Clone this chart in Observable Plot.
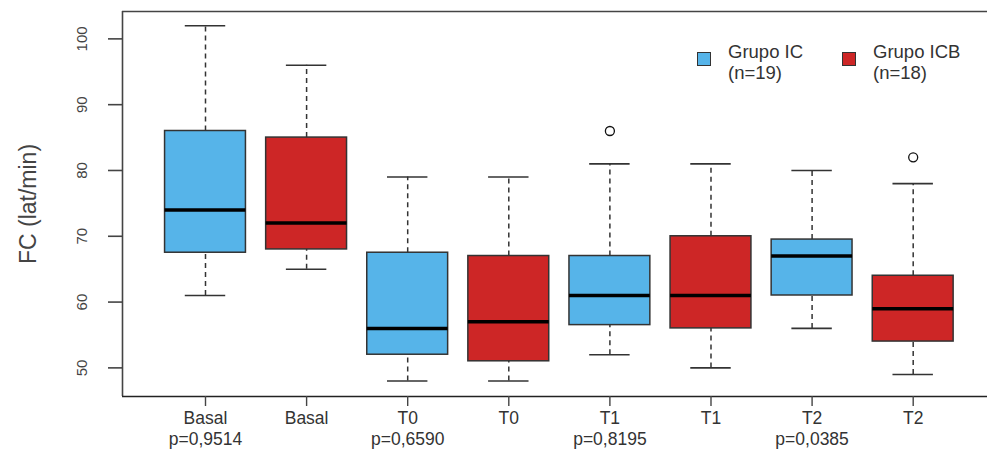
<!DOCTYPE html>
<html>
<head>
<meta charset="utf-8">
<script src="https://cdn.jsdelivr.net/npm/d3@7"></script>
<script src="https://cdn.jsdelivr.net/npm/@observablehq/plot@0.6"></script>
<style>
  html, body { margin: 0; padding: 0; background: #fff; }
  #wrap { position: relative; width: 987px; height: 453px; overflow: hidden; }
  #legend { position: absolute; left: 0; top: 0; font-family: "Liberation Sans", Arial, sans-serif; font-size: 18.5px; color: #333; line-height: 21px; }
  .item { position: absolute; top: 41px; display: flex; align-items: flex-start; white-space: nowrap; }
  .sw { width: 14px; height: 14px; border: 1.3px solid #333; margin-top: 11px; margin-right: 17px; box-sizing: border-box; }
</style>
</head>
<body>
<div id="wrap"><div id="legend"></div></div>
<script>
// ---- data ----
const times = ["Basal", "T0", "T1", "T2"];
const pValues = ["p=0,9514", "p=0,6590", "p=0,8195", "p=0,0385"];
const groups = ["Grupo IC", "Grupo ICB"];
const groupN = ["(n=19)", "(n=18)"];
const colors = ["#56b4e9", "#cd2626"];

// Grupo IC
const icLow  = [61, 48, 52, 56];
const icQ1   = [67.5, 52, 56.5, 61];
const icMed  = [74, 56, 61, 67];
const icQ3   = [86, 67.5, 67, 69.5];
const icHigh = [102, 79, 81, 80];
const icOutliers = [{time: "T1", value: 86}];

// Grupo ICB
const icbLow  = [65, 48, 50, 49];
const icbQ1   = [68, 51, 56, 54];
const icbMed  = [72, 57, 61, 59];
const icbQ3   = [85, 67, 70, 64];
const icbHigh = [96, 79, 81, 78];
const icbOutliers = [{time: "T2", value: 82}];

const yTicks = [50, 60, 70, 80, 90, 100];
const yTitle = "FC (lat/min)";

// ---- build table ----
const series = [
  {low: icLow, q1: icQ1, med: icMed, q3: icQ3, high: icHigh, out: icOutliers},
  {low: icbLow, q1: icbQ1, med: icbMed, q3: icbQ3, high: icbHigh, out: icbOutliers}
];
const rows = [];
const outs = [];
times.forEach((t, ti) => {
  series.forEach((s, gi) => {
    const pos = ti * 2 + gi + 1;
    rows.push({time: t, group: groups[gi], pos, low: s.low[ti], q1: s.q1[ti], med: s.med[ti], q3: s.q3[ti], high: s.high[ti]});
  });
});
series.forEach((s, gi) => s.out.forEach(o => {
  outs.push({pos: times.indexOf(o.time) * 2 + gi + 1, value: o.value, group: groups[gi]});
}));
const tickLabels = rows.map((r, i) => r.time + (i % 2 === 0 ? "\n" + pValues[i / 2] : ""));

const halfBox = 0.4, halfCap = 0.2;
const xDomain = [0.179, 8.735];
const yDomain = [45.65, 104.16];
const axisColor = "#444";
const dash = "5,4";

const chart = Plot.plot({
  width: 987,
  height: 453,
  marginLeft: 122,
  marginRight: 0,
  marginTop: 11,
  marginBottom: 57,
  style: {fontFamily: "'Liberation Sans', Arial, sans-serif", background: "white"},
  x: {type: "linear", domain: xDomain, label: null},
  y: {domain: yDomain, label: null},
  color: {domain: groups, range: colors},
  marks: [
    // frame (left, top, bottom)
    Plot.ruleX([xDomain[0]], {stroke: axisColor, strokeWidth: 1.6}),
    Plot.ruleY([yDomain[1]], {stroke: axisColor, strokeWidth: 1.6}),
    Plot.ruleY([yDomain[0]], {stroke: "#222", strokeWidth: 1.6}),
    // y axis ticks
    Plot.axisY({ticks: yTicks, tickSize: 14, tickFormat: () => "", label: null, stroke: axisColor, strokeWidth: 1.6}),
    Plot.text(yTicks, {y: d => d, text: d => String(d), frameAnchor: "left", dx: -40, rotate: -90, textAnchor: "middle", fontSize: 15, fill: "#444"}),
    Plot.text([yTitle], {text: d => d, frameAnchor: "left", dx: -94, rotate: -90, textAnchor: "middle", fontSize: 23, fill: "#444"}),
    // x axis
    Plot.axisX({ticks: rows.map(r => r.pos), tickFormat: (d) => tickLabels[d - 1], label: null, tickSize: 10, tickPadding: 2, fontSize: 17.5, stroke: axisColor, strokeWidth: 1.4, fill: "#333", lineHeight: 1.22}),
    // whiskers
    Plot.ruleX(rows, {x: "pos", y1: "q3", y2: "high", stroke: "#333", strokeWidth: 1.5, strokeDasharray: dash}),
    Plot.ruleX(rows, {x: "pos", y1: "low", y2: "q1", stroke: "#333", strokeWidth: 1.5, strokeDasharray: dash}),
    Plot.ruleY(rows, {y: "high", x1: d => d.pos - halfCap, x2: d => d.pos + halfCap, stroke: "#333", strokeWidth: 1.6}),
    Plot.ruleY(rows, {y: "low", x1: d => d.pos - halfCap, x2: d => d.pos + halfCap, stroke: "#333", strokeWidth: 1.6}),
    // boxes
    Plot.rect(rows, {x1: d => d.pos - halfBox, x2: d => d.pos + halfBox, y1: "q1", y2: "q3", fill: "group", stroke: "#333", strokeWidth: 1.5}),
    // medians
    Plot.ruleY(rows, {y: "med", x1: d => d.pos - halfBox, x2: d => d.pos + halfBox, stroke: "#000", strokeWidth: 3.5}),
    // outliers
    Plot.dot(outs, {x: "pos", y: "value", r: 4.5, stroke: "#111", fill: "white", strokeWidth: 1.3})
  ]
});
document.getElementById("wrap").prepend(chart);

// legend
const legend = document.getElementById("legend");
const legendLeft = [697, 842];
groups.forEach((g, i) => {
  const item = document.createElement("div");
  item.className = "item";
  item.style.left = legendLeft[i] + "px";
  const sw = document.createElement("div");
  sw.className = "sw";
  sw.style.background = colors[i];
  const tx = document.createElement("div");
  tx.innerHTML = g + "<br>" + groupN[i];
  item.append(sw, tx);
  legend.append(item);
});
</script>
</body>
</html>
